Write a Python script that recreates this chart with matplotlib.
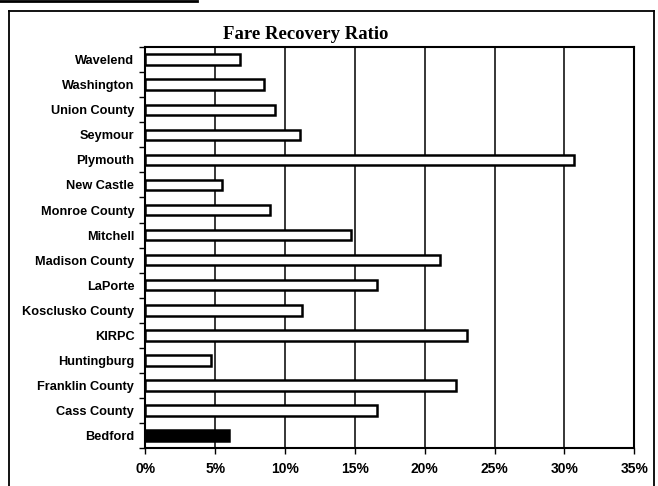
import numpy as np
import matplotlib.pyplot as plt
from matplotlib.lines import Line2D
from matplotlib.ticker import FixedLocator

# Fare recovery ratio by transit system (percent)
systems = ["Wavelend", "Washington", "Union County", "Seymour", "Plymouth",
           "New Castle", "Monroe County", "Mitchell", "Madison County",
           "LaPorte", "Kosclusko County", "KIRPC", "Huntingburg",
           "Franklin County", "Cass County", "Bedford"]
ratio = [6.8, 8.5, 9.3, 11.1, 30.7, 5.5, 8.9, 14.7, 21.1, 16.6, 11.2,
         23.0, 4.7, 22.2, 16.6, 6.0]
highlight = "Bedford"

fig = plt.figure(figsize=(6.58, 4.86), dpi=100)
ax = fig.add_axes([0.221, 0.078, 0.743, 0.825])

# first category at the top
y = np.arange(len(systems))[::-1]
colors = ["black" if s == highlight else "white" for s in systems]
ax.barh(y, ratio, height=0.42, color=colors, edgecolor="black",
        linewidth=1.8, zorder=3)

ax.set_xlim(0, 35)
ax.set_ylim(-0.5, len(systems) - 0.5)
ax.set_xticks(np.arange(0, 36, 5))
ax.set_xticklabels([f"{v}%" for v in range(0, 36, 5)],
                   fontsize=10, fontweight="bold", family="Liberation Sans")
ax.tick_params(axis="x", length=4, width=1, pad=6)

ax.set_yticks(y)
ax.set_yticklabels(systems, fontsize=9.2, fontweight="bold",
                   family="Liberation Sans")
ax.tick_params(axis="y", which="major", length=0, pad=8)
ax.yaxis.set_minor_locator(FixedLocator(np.arange(-0.5, len(systems), 1)))
ax.tick_params(axis="y", which="minor", length=4, width=1)

ax.xaxis.grid(True, color="black", linewidth=1.1, zorder=0)
for sp in ax.spines.values():
    sp.set_linewidth(1.5)

fig.text(0.465, 0.930, "Fare Recovery Ratio", ha="center", va="center",
         fontsize=13.5, fontweight="bold", family="Liberation Serif")

# outer frame around the chart
frame_kw = dict(color="black", linewidth=1.3, transform=fig.transFigure)
fig.add_artist(Line2D([0.014, 0.014], [0.0, 0.977], **frame_kw))
fig.add_artist(Line2D([0.014, 0.994], [0.977, 0.977], **frame_kw))
fig.add_artist(Line2D([0.994, 0.994], [0.0, 0.977], **frame_kw))
fig.add_artist(Line2D([0.0, 0.30], [0.998, 0.998], color="black",
                      linewidth=2, transform=fig.transFigure))

fig.savefig("out.png", dpi=100)
